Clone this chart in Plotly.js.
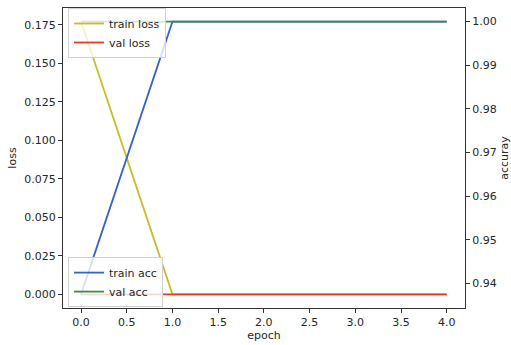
<!DOCTYPE html>
<html>
<head>
<meta charset="utf-8">
<script src="https://cdn.plot.ly/plotly-3.0.1.min.js"></script>
<style>html,body{margin:0;padding:0;background:#fff;}#chart{width:511px;height:345px;}</style>
</head>
<body>
<div id="chart"></div>
<script>
const epochs = [0, 1, 2, 3, 4];
const trainLoss = [0.177, 0, 0, 0, 0];
const valLoss = [0, 0, 0, 0, 0];
const trainAcc = [0.9375, 1, 1, 1, 1];
const valAcc = [1, 1, 1, 1, 1];
const xTicks = [0, 0.5, 1, 1.5, 2, 2.5, 3, 3.5, 4];

const font = {family: 'DejaVu Sans', size: 11, color: '#262626'};

const traces = [
  {x: epochs, y: trainLoss, name: 'train loss', type: 'scatter', mode: 'lines',
   line: {color: '#c9bc2a', width: 1.8}, yaxis: 'y', legend: 'legend'},
  {x: epochs, y: valLoss, name: 'val loss', type: 'scatter', mode: 'lines',
   line: {color: '#ee3b1f', width: 1.8}, yaxis: 'y', legend: 'legend'},
  {x: epochs, y: trainAcc, name: 'train acc', type: 'scatter', mode: 'lines',
   line: {color: '#3563c4', width: 1.8}, yaxis: 'y2', legend: 'legend2'},
  {x: epochs, y: valAcc, name: 'val acc', type: 'scatter', mode: 'lines',
   line: {color: '#3d8c3d', width: 1.8}, yaxis: 'y2', legend: 'legend2'}
];

const layout = {
  width: 511, height: 345,
  margin: {l: 63, r: 46, t: 8, b: 37},
  paper_bgcolor: '#fff', plot_bgcolor: '#fff',
  font: font,
  showlegend: true,
  xaxis: {
    range: [-0.197, 4.2], tickvals: xTicks, ticktext: xTicks.map(v => v.toFixed(1)),
    showgrid: false, zeroline: false, showline: true, mirror: true,
    linecolor: '#333', linewidth: 1, ticks: 'outside', ticklen: 4, tickcolor: '#333',
    title: {text: 'epoch', font: font, standoff: 3}, tickfont: font
  },
  yaxis: {
    range: [-0.00885, 0.1858], tickmode: 'linear', tick0: 0, dtick: 0.025, tickformat: '.3f',
    showgrid: false, zeroline: false, showline: true, linecolor: '#333', linewidth: 1,
    ticks: 'outside', ticklen: 4, tickcolor: '#333',
    title: {text: 'loss', font: font, standoff: 5}, tickfont: font
  },
  yaxis2: {
    overlaying: 'y', side: 'right',
    range: [0.934375, 1.003125], tickmode: 'linear', tick0: 0.94, dtick: 0.01, tickformat: '.2f',
    showgrid: false, zeroline: false, showline: true, linecolor: '#333', linewidth: 1,
    ticks: 'outside', ticklen: 4, tickcolor: '#333',
    title: {text: 'accuray', font: font, standoff: 10}, tickfont: font
  },
  legend: {
    x: 0.0124, y: 1.0, xanchor: 'left', yanchor: 'top',
    bgcolor: 'rgba(255,255,255,0.8)', bordercolor: '#d0d0d0', borderwidth: 1,
    font: font, tracegroupgap: 0
  },
  legend2: {
    x: 0.0124, y: 0.003, xanchor: 'left', yanchor: 'bottom',
    bgcolor: 'rgba(255,255,255,0.8)', bordercolor: '#d0d0d0', borderwidth: 1,
    font: font, tracegroupgap: 0
  }
};

Plotly.newPlot('chart', traces, layout, {displayModeBar: false, staticPlot: true});
</script>
</body>
</html>
